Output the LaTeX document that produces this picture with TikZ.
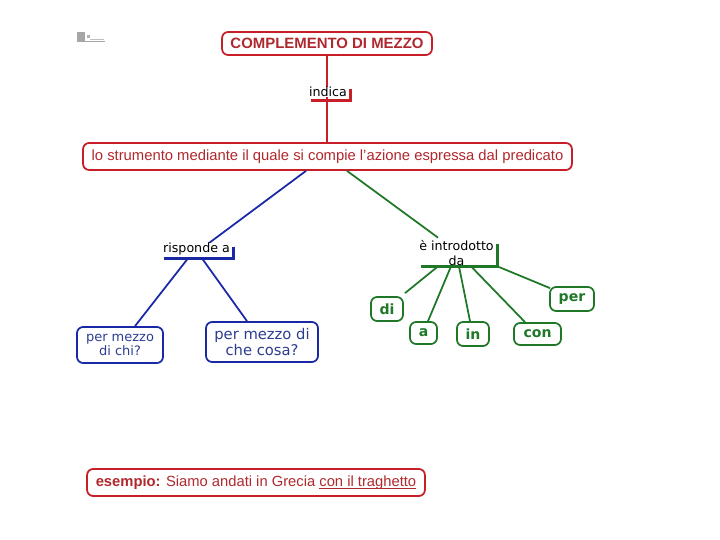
\documentclass[tikz,border=0pt]{standalone}
\usepackage{fontspec}
\setmainfont{Liberation Sans}
\newfontfamily\verd{DejaVu Sans}
\definecolor{rossoA}{RGB}{200,30,40}
\definecolor{rossoT}{RGB}{175,40,45}
\definecolor{bluA}{RGB}{25,40,165}
\definecolor{bluT}{RGB}{45,60,145}
\definecolor{verdeA}{RGB}{30,120,40}
\tikzset{
	rossobox/.style={draw=rossoA,rounded corners=3.5pt,line width=1pt,text=rossoT,inner sep=0pt,align=center},
	blubox/.style={draw=bluA,rounded corners=3.5pt,line width=1pt,text=bluT,inner sep=0pt,align=center},
	verdebox/.style={draw=verdeA,rounded corners=3.5pt,line width=1pt,text=verdeA,inner sep=0pt,align=center,font=\verd\bfseries\fontsize{8}{10}\selectfont},
	legame/.style={inner sep=0pt,align=center,font=\verd\fontsize{7.2}{8.2}\selectfont},
	rossoline/.style={draw=rossoA,line width=1pt},
	bluline/.style={draw=bluA,line width=1pt},
	verdeline/.style={draw=verdeA,line width=1pt}
}
\begin{document}
\begin{tikzpicture}[x=0.02cm,y=-0.02cm]
	\useasboundingbox (0,0) rectangle (720,540);
	% logo
	\fill[gray!70] (77,32) rectangle (85,42);
	\fill[gray!60] (87,35) rectangle (90,38);
	\draw[gray!70,line width=0.3pt] (85,41) -- (105,41);
	\draw[gray!50,line width=0.3pt] (90,39) -- (104,39);
	% nodes
	\node[rossobox,minimum width=4.2cm,minimum height=0.46cm,font=\bfseries\fontsize{8.5}{10}\selectfont] (titolo) at (327,43.5) {COMPLEMENTO DI MEZZO};
	\node[rossobox,minimum width=9.78cm,minimum height=0.54cm,font=\fontsize{8.43}{10}\selectfont] (strumento) at (327.5,156.5) {lo strumento mediante il quale si compie l'azione espressa dal predicato};
	\node[legame,minimum width=0.78cm,minimum height=0.22cm] (indica) at (330.5,94.5) {};
	\node[legame,minimum width=1.38cm,minimum height=0.22cm] (risponde) at (198.5,252.5) {};
	\node[legame,minimum width=1.52cm,minimum height=0.44cm] (introdotto) at (459,255) {};
	\node[blubox,minimum width=1.72cm,minimum height=0.72cm,font=\verd\fontsize{7.4}{8.2}\selectfont] (chi) at (120,345) {per mezzo\\di chi?};
	\node[blubox,minimum width=2.24cm,minimum height=0.8cm,font=\verd\fontsize{8.4}{9}\selectfont] (cosa) at (262,342) {per mezzo di\\che cosa?};
	\node[verdebox,minimum width=0.64cm,minimum height=0.48cm] (di) at (387,309) {di};
	\node[verdebox,minimum width=0.54cm,minimum height=0.44cm] (a) at (423.5,333) {a};
	\node[verdebox,minimum width=0.64cm,minimum height=0.48cm] (in) at (473,334) {in};
	\node[verdebox,minimum width=0.94cm,minimum height=0.44cm] (con) at (537.5,334) {con};
	\node[verdebox,minimum width=0.88cm,minimum height=0.48cm] (per) at (572,299) {per};
	\node[rossobox,minimum width=6.76cm,minimum height=0.54cm,font=\fontsize{8.4}{10}\selectfont] (esempio) at (256,482.5) {\textbf{esempio:} Siamo andati in Grecia \underline{\smash{con il traghetto}}};
	% barre
	\draw[rossoA,line width=1.7pt] (indica.south west) -- (indica.south east) -- (indica.north east);
	\draw[bluA,line width=1.7pt] (risponde.south west) -- (risponde.south east) -- (risponde.north east);
	\draw[verdeA,line width=1.7pt] (introdotto.south west) -- (introdotto.south east) -- (introdotto.north east);
	% collegamenti
	\draw[rossoline] (titolo.south) -- (strumento.north -| titolo.south);
	\draw[bluline] ([xshift=-0.43cm]strumento.south) -- ([xshift=0.14cm,yshift=0.02cm]risponde.north);
	\draw[bluline] ([xshift=-0.21cm]risponde.south) -- ([xshift=0.3cm]chi.north);
	\draw[bluline] ([xshift=0.07cm]risponde.south) -- ([xshift=-0.3cm]cosa.north);
	\draw[verdeline] ([xshift=0.39cm]strumento.south) -- ([xshift=-0.42cm,yshift=0.12cm]introdotto.north);
	\draw[verdeline] ([xshift=-0.42cm]introdotto.south) -- ([xshift=0.36cm,yshift=0.06cm]di.north);
	\draw[verdeline] ([xshift=-0.16cm]introdotto.south) -- ([xshift=0.09cm]a.north);
	\draw[verdeline] ([xshift=0cm]introdotto.south) -- ([xshift=-0.06cm]in.north);
	\draw[verdeline] ([xshift=0.24cm]introdotto.south) -- ([xshift=-0.25cm]con.north);
	\draw[verdeline] (introdotto.south east) -- ([xshift=-0.44cm,yshift=-0.04cm]per.north);
	% testi
	\node[legame,fill=white] (indicaT) at (328,92) {indica};
	\node[legame,fill=white] (rispondeT) at (196.5,249) {risponde a};
	\node[legame] (introdottoT) at (456.5,253) {è introdotto\\da};
\end{tikzpicture}
\end{document}
